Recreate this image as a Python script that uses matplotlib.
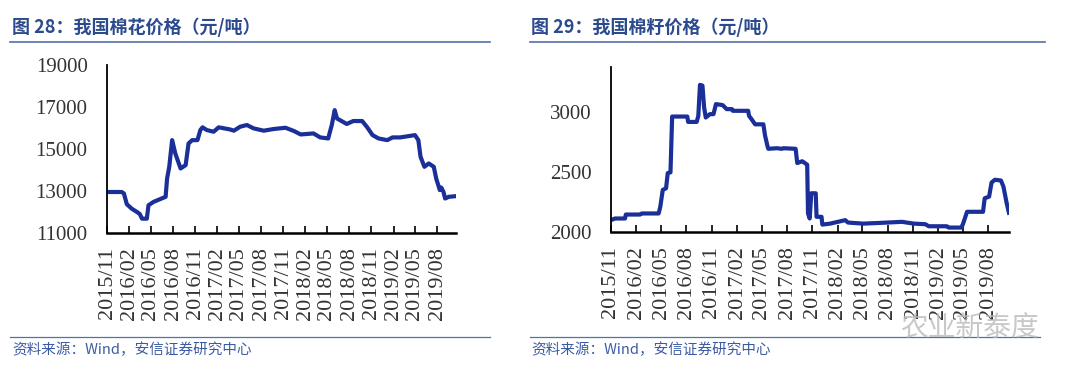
import matplotlib.pyplot as plt
import pandas as pd

# 棉花价格 (元/吨)
cotton_dates = ['2015-11-01', '2016-01-01', '2016-01-10', '2016-01-22', '2016-02-12', '2016-03-04',
                '2016-03-16', '2016-03-25', '2016-04-14', '2016-04-21', '2016-05-12', '2016-07-01',
                '2016-07-07', '2016-07-16', '2016-07-28', '2016-08-10', '2016-09-01', '2016-09-22',
                '2016-10-04', '2016-10-19', '2016-11-10', '2016-11-22', '2016-12-01', '2016-12-19',
                '2017-01-16', '2017-02-06', '2017-03-25', '2017-04-10', '2017-05-06', '2017-06-03',
                '2017-07-01', '2017-08-12', '2017-09-22', '2017-11-10', '2017-12-16', '2018-01-12',
                '2018-03-06', '2018-04-03', '2018-05-06', '2018-05-21', '2018-06-02', '2018-06-12',
                '2018-07-22', '2018-08-18', '2018-09-24', '2018-10-15', '2018-11-06', '2018-12-01',
                '2019-01-06', '2019-01-28', '2019-03-01', '2019-05-01', '2019-05-15', '2019-05-24',
                '2019-06-09', '2019-06-27', '2019-07-18', '2019-07-28', '2019-08-12', '2019-08-18',
                '2019-08-27', '2019-09-03', '2019-09-18', '2019-10-15']
cotton_price = [12950, 12950, 12880, 12370, 12150, 12000,
                11900, 11680, 11680, 12320, 12480, 12720,
                13590, 14150, 15420, 14790, 14070, 14230,
                15260, 15420, 15420, 15900, 16030, 15900,
                15820, 16030, 15930, 15870, 16060, 16140,
                15980, 15870, 15950, 16010, 15850, 15690,
                15740, 15550, 15500, 16140, 16850, 16450,
                16190, 16330, 16330, 16030, 15660, 15500,
                15420, 15550, 15550, 15660, 15420, 14630,
                14150, 14310, 14150, 13590, 13040, 13160,
                12960, 12640, 12720, 12750]

# 棉籽价格 (元/吨)
seed_dates = ['2015-11-01', '2015-11-16', '2015-12-22', '2015-12-25', '2016-02-15', '2016-02-21',
              '2016-04-22', '2016-04-28', '2016-05-07', '2016-05-19', '2016-05-25', '2016-06-04',
              '2016-06-10', '2016-08-04', '2016-08-07', '2016-09-07', '2016-09-13', '2016-09-19',
              '2016-09-28', '2016-10-04', '2016-10-10', '2016-10-25', '2016-11-07', '2016-11-16',
              '2016-12-10', '2016-12-25', '2017-01-13', '2017-01-16', '2017-03-13', '2017-03-16',
              '2017-03-25', '2017-04-07', '2017-05-07', '2017-05-13', '2017-05-22', '2017-05-25',
              '2017-06-25', '2017-07-13', '2017-07-19', '2017-09-01', '2017-09-07', '2017-09-25',
              '2017-10-13', '2017-10-16', '2017-10-22', '2017-10-28', '2017-11-13', '2017-11-16',
              '2017-12-04', '2017-12-07', '2018-01-04', '2018-02-28', '2018-03-10', '2018-05-04',
              '2018-07-04', '2018-09-22', '2018-11-04', '2018-12-16', '2018-12-28', '2019-03-04',
              '2019-03-10', '2019-04-25', '2019-05-01', '2019-05-16', '2019-07-13', '2019-07-19',
              '2019-08-04', '2019-08-13', '2019-08-25', '2019-09-16', '2019-09-25', '2019-10-07',
              '2019-10-15']
seed_price = [2100, 2113, 2113, 2146, 2146, 2155,
              2155, 2211, 2352, 2366, 2493, 2499,
              2966, 2966, 2921, 2921, 2972, 3231,
              3225, 3042, 2958, 2986, 2986, 3070,
              3062, 3028, 3028, 3014, 3014, 2972,
              2944, 2901, 2901, 2808, 2718, 2696,
              2701, 2696, 2701, 2696, 2577, 2592,
              2563, 2155, 2113, 2324, 2324, 2127,
              2127, 2062, 2070, 2099, 2079, 2070,
              2076, 2085, 2070, 2065, 2048, 2048,
              2037, 2037, 2065, 2169, 2169, 2282,
              2296, 2414, 2437, 2431, 2380, 2239,
              2161]

tick_dates = pd.date_range('2015-11-01', '2019-08-01', freq='3MS')
tick_labels = [d.strftime('%Y/%m') for d in tick_dates]

titles = ['图 28：我国棉花价格（元/吨）', '图 29：我国棉籽价格（元/吨）']
source = '资料来源：Wind，安信证券研究中心'

plt.rcParams['font.family'] = ['Noto Sans CJK SC', 'DejaVu Sans']

line_color = '#1B2F98'
title_color = '#2C4A8E'

fig = plt.figure(figsize=(10.8, 3.8), dpi=100)

ax1 = fig.add_axes([0.0991, 0.387, 0.3231, 0.442])
ax2 = fig.add_axes([0.5657, 0.3895, 0.3685, 0.434])

ax1.plot(pd.to_datetime(cotton_dates), cotton_price, color=line_color, lw=3)
ax2.plot(pd.to_datetime(seed_dates), seed_price, color=line_color, lw=3)

ax1.set_ylim(11000, 19000)
ax1.set_yticks([11000, 13000, 15000, 17000, 19000])
ax1.set_xlim(pd.Timestamp('2015-11-01'), pd.Timestamp('2019-10-18'))

ax2.set_ylim(2000, 3380)
ax2.set_yticks([2000, 2500, 3000])
ax2.set_xlim(pd.Timestamp('2015-11-01'), pd.Timestamp('2019-10-15'))

for ax in (ax1, ax2):
    ax.set_xticks(tick_dates)
    ax.set_xticklabels(tick_labels, rotation=90, family='Liberation Serif', fontsize=16, color='#333333')
    for lab in ax.get_yticklabels():
        lab.set_family('Liberation Serif')
    ax.tick_params(axis='y', length=0, labelsize=15, labelcolor='#333333', pad=14)
    ax.tick_params(axis='x', direction='in', length=5, width=1.2, pad=10)
    for s in ('top', 'right'):
        ax.spines[s].set_visible(False)
    ax.spines['left'].set_linewidth(1.3)
    ax.spines['bottom'].set_linewidth(1.8)

# 标题、分隔线、资料来源
fig.text(12 / 1080, 1 - 27 / 380, titles[0], color=title_color, fontsize=13, fontweight='bold', va='center')
fig.text(531 / 1080, 1 - 27 / 380, titles[1], color=title_color, fontsize=13, fontweight='bold', va='center')
for x0, x1 in ((10, 490), (530, 1045)):
    fig.add_artist(plt.Line2D([x0 / 1080, x1 / 1080], [1 - 42 / 380] * 2, color='#5470A8', lw=1.2))
for x0, x1 in ((10, 490), (530, 1040)):
    fig.add_artist(plt.Line2D([x0 / 1080, x1 / 1080], [1 - 337 / 380] * 2, color='#5470A8', lw=0.9))
fig.text(12 / 1080, 1 - 350 / 380, source, color='#3B5BA5', fontsize=10.5, va='center')
fig.text(531 / 1080, 1 - 350 / 380, source, color='#3B5BA5', fontsize=10.5, va='center')

# 水印
fig.text(900 / 1080, 1 - 328 / 380, '农业新泰度', color='#BBBBBB', fontsize=20, va='center', alpha=0.8)

fig.savefig('out.png', dpi=100)
